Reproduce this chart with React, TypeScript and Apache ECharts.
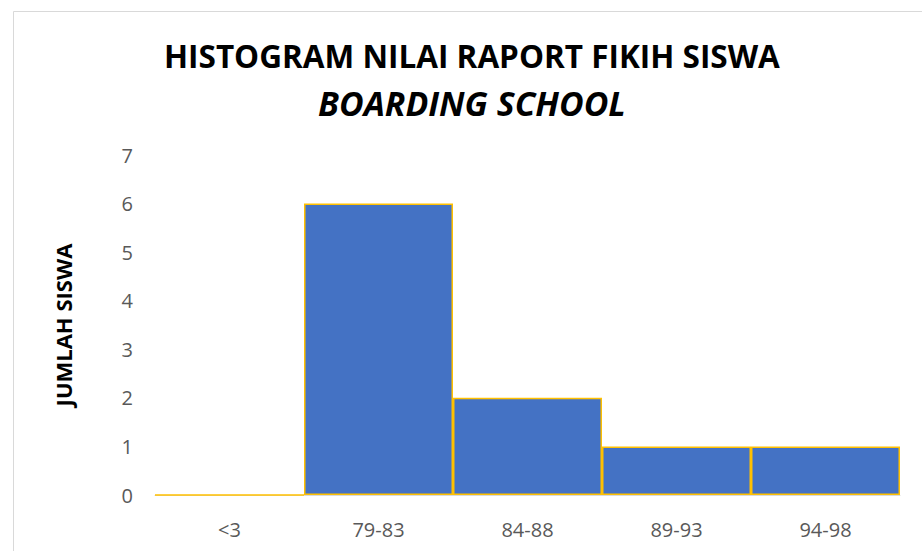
import React, { useEffect, useRef } from "react";
import * as echarts from "echarts";

const titleText = "HISTOGRAM NILAI RAPORT FIKIH SISWA";
const subtitleText = "BOARDING SCHOOL";
const yAxisName = "JUMLAH SISWA";
const categories = ["<3", "79-83", "84-88", "89-93", "94-98"];
const counts = [0, 6, 2, 1, 1];

export default function App() {
  const ref = useRef<HTMLDivElement>(null);
  useEffect(() => {
    if (!ref.current) return;
    const chart = echarts.init(ref.current, undefined, { renderer: "svg" });
    chart.setOption({
      animation: false,
      backgroundColor: "#ffffff",
      title: [
        {
          text: titleText,
          left: 159,
          top: 34,
          textStyle: { fontFamily: "Open Sans", fontWeight: "bold", fontSize: 31.5, color: "#000000" },
        },
        {
          text: subtitleText,
          left: 313,
          top: 81,
          textStyle: { fontFamily: "Open Sans", fontWeight: "bold", fontStyle: "italic", fontSize: 33.8, color: "#000000" },
        },
      ],
      graphic: [
        {
          type: "rect",
          shape: { x: 13.5, y: 11.5, width: 1000, height: 1000 },
          style: { fill: "none", stroke: "#D9D9D9", lineWidth: 1 },
          silent: true,
        },
      ],
      grid: { left: 155, right: 22, top: 155, bottom: 56 },
      xAxis: {
        type: "category",
        data: categories,
        axisLine: { show: true, lineStyle: { color: "#D9D9D9", width: 1 } },
        axisTick: { show: false },
        axisLabel: { color: "#595959", fontSize: 20, fontFamily: "Open Sans", margin: 24 },
      },
      yAxis: {
        type: "value",
        min: 0,
        max: 7,
        interval: 1,
        name: yAxisName,
        nameLocation: "middle",
        nameGap: 81,
        nameRotate: 90,
        nameTextStyle: { fontFamily: "Open Sans", fontWeight: "bold", fontSize: 22, color: "#000000" },
        splitLine: { show: false },
        axisLine: { show: false },
        axisTick: { show: false },
        axisLabel: { color: "#595959", fontSize: 20, fontFamily: "Open Sans", margin: 22 },
      },
      series: [
        {
          type: "bar",
          data: counts,
          barCategoryGap: 0,
          itemStyle: { color: "#4472C4", borderColor: "#FFC000", borderWidth: 1.5 },
        },
      ],
    });
    return () => chart.dispose();
  }, []);
  return (
    <div
      ref={ref}
      style={{ position: "absolute", left: 0, top: 0, width: 922, height: 551 }}
    />
  );
}
